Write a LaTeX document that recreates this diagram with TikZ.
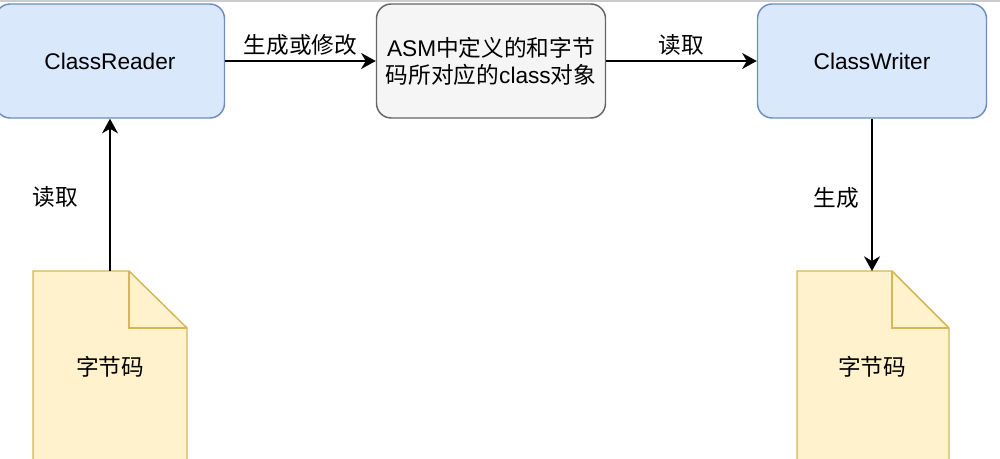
\documentclass[tikz,border=0pt]{standalone}
\usepackage{fontspec}
\setmainfont{Liberation Sans}
\newfontfamily\zh{Noto Sans CJK SC}
\usetikzlibrary{arrows.meta}

\definecolor{boxblue}{HTML}{DAE8FC}
\definecolor{lineblue}{HTML}{6C8EBF}
\definecolor{boxgray}{HTML}{F5F5F5}
\definecolor{linegray}{HTML}{666666}
\definecolor{docyellow}{HTML}{FFF2CC}
\definecolor{docline}{HTML}{D6B656}

\begin{document}
\begin{tikzpicture}[x = 0.75pt, y = -0.75pt, font = \fontsize{17}{20.25}\selectfont,
		classbox/.style = {rounded corners = 11pt, draw = lineblue, fill = boxblue, line width = 1.1pt, minimum width = 171.75pt, minimum height = 85.5pt, align = center},
		asmbox/.style = {classbox, draw = linegray, fill = boxgray},
		docshape/.style = {draw = docline, fill = docyellow, line width = 1.1pt},
		arr/.style = {-{Stealth[length = 11pt, width = 12pt, inset = 3.5pt]}, line width = 1.2pt}]
		\useasboundingbox (0, 0) rectangle (1000, 459);
		\clip (0, 0) rectangle (1000, 459);
		\draw[line width = 1pt, black!20] (0, 1) -- (1000, 1);
		\node[classbox] (reader) at (110, 61) {ClassReader};
		\node[asmbox] (asm) at (491, 61) {ASM{\zh 中定义的和字节}\\{\zh 码所对应的}class{\zh 对象}};
		\node[classbox] (writer) at (872, 61) {ClassWriter};
		\draw[arr] (reader) to node[above] {\zh 生成或修改} (asm);
		\draw[arr] (asm) to node[above] {\zh 读取} (writer);
		% left file
		\draw[docshape] (33, 271) -- (129, 271) -- (187, 328) -- (187, 480) -- (33, 480) -- cycle;
		\draw[docshape, fill = none] (129, 271) -- (129, 328) -- (187, 328);
		\coordinate (top1) at (110, 271);
		\node (code1) at (110, 367) {\zh 字节码};
		\draw[arr] (top1) to (reader);
		\node (read1) at (55, 197) {\zh 读取};
		% right file
		\draw[docshape] (797, 271) -- (892, 271) -- (949, 328) -- (949, 480) -- (797, 480) -- cycle;
		\draw[docshape, fill = none] (892, 271) -- (892, 328) -- (949, 328);
		\coordinate (top2) at (872, 271);
		\node (code2) at (872, 367) {\zh 字节码};
		\draw[arr] (writer) to (top2);
		\node (gen2) at (836, 198) {\zh 生成};
	\end{tikzpicture}
\end{document}
